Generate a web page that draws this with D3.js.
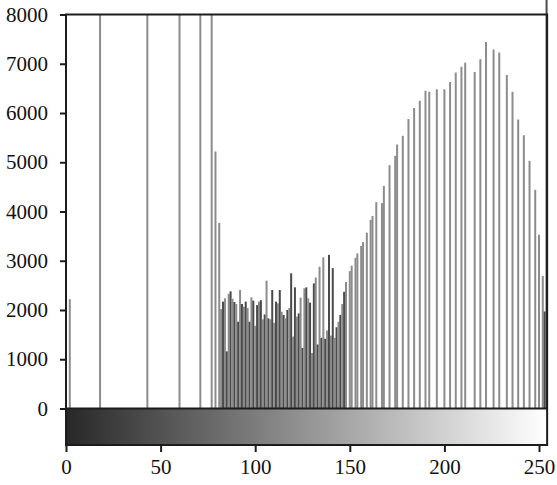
<!DOCTYPE html>
<html>
<head>
<meta charset="utf-8">
<script src="https://cdn.jsdelivr.net/npm/d3@7"></script>
<style>
body{margin:0;background:#fff;}
text{font-family:"Liberation Serif","Times New Roman",serif;}
</style>
</head>
<body>
<div id="hist"></div>
<script>
// gray levels that have counts, and their counts
var levels = [2, 18, 43, 60, 71, 77, 79, 81,
  82, 83, 84, 85, 86, 87, 88, 89, 90, 91, 92, 93, 94, 95, 96, 97, 98, 99,
  100, 101, 102, 103, 104, 105, 106, 107, 108, 109, 110, 111, 112, 113, 114, 115,
  116, 117, 118, 119, 120, 121, 122, 123, 124, 125, 126, 127, 128, 129, 130, 131,
  132, 133, 134, 135, 136, 137, 138, 139, 140, 141, 142, 143, 144, 145, 146, 147, 148,
  150, 151, 153, 154, 156, 157, 159, 161, 162, 164, 167, 168, 171, 174, 175, 178,
  181, 184, 187, 190, 192, 196, 200, 203, 206, 209, 211, 216, 219, 222, 226, 229,
  233, 236, 239, 242, 245, 248, 250, 252, 253, 254];
var counts = [2220, 12000, 12000, 12000, 12000, 12000, 5220, 3770,
  2020, 2170, 2237, 1160, 2330, 2380, 2230, 2162, 2122, 1762, 2406, 2122, 2068, 2170,
  2040, 1762, 2257, 2190, 1680, 2100, 2170, 2200, 1810, 1910, 2595, 1830, 1810, 2406,
  1740, 2170, 2135, 2406, 1965, 1900, 1830, 2000, 2040, 2745, 1460, 2460, 1865, 1930,
  2250, 1230, 2440, 2460, 2237, 2150, 1125, 2540, 2660, 1300, 2880, 1435, 3070, 1415,
  1585, 3120, 1480, 2850, 1435, 1650, 1760, 1900, 2120, 2370,
  2570, 2790, 2900, 3060, 3150, 3300, 3380, 3570, 3830, 3910, 4190, 4170, 4520, 4940,
  5130, 5360, 5540, 5880, 6100, 6250, 6450, 6430, 6480, 6480, 6630, 6820, 6940, 7020,
  6830, 7090, 7440, 7290, 7230, 6770, 6430, 5870, 5550, 5030, 4440, 3530, 2690, 1970];
var yTicks = [0, 1000, 2000, 3000, 4000, 5000, 6000, 7000, 8000];
var xTicks = [0, 50, 100, 150, 200, 250];

ShowHistogram();

function ShowHistogram(){
    var svg = d3.select("#hist")
                .append("svg")
                .attr("width", 557)
                .attr("height", 485);

    var x = d3.scaleLinear().domain([0, 250]).range([66, 539]);
    var y = d3.scaleLinear().domain([0, 8000]).range([408.5, 14.5]).clamp(true);
    var left = x(0), right = x(254.3), top = y(8000), base = y(0), barBottom = 445;

    // gradient strip under the bars
    var grad = svg.append("defs").append("linearGradient").attr("id", "gray");
    grad.append("stop").attr("offset", "0%").attr("stop-color", "#282828");
    grad.append("stop").attr("offset", "100%").attr("stop-color", "#ffffff");
    svg.append("rect").attr("x", left).attr("y", base).attr("width", right - left)
       .attr("height", barBottom - base).attr("fill", "url(#gray)");

    var has = {};
    levels.forEach(function(l){ has[l] = true; });

    // bars packed next to each other look darker in the scan
    function barColor(d){
        if(has[d - 1] && ((d < 150 && d % 2 == 1) || d >= 252)) return "#4a4a4a";
        return "#8c8c8c";
    }

    svg.selectAll("line.bar").data(levels).enter().append("line")
       .attr("class", "bar")
       .attr("x1", function(d){ return x(d); })
       .attr("x2", function(d){ return x(d); })
       .attr("y1", base)
       .attr("y2", function(d, i){ return y(counts[i]); })
       .attr("stroke", barColor)
       .attr("stroke-width", 2);

    // frame
    svg.append("rect").attr("x", left).attr("y", top).attr("width", right - left)
       .attr("height", barBottom - top).attr("fill", "none")
       .attr("stroke", "#1c1c1c").attr("stroke-width", 2);
    svg.append("line").attr("x1", left).attr("x2", right).attr("y1", base).attr("y2", base)
       .attr("stroke", "#1c1c1c").attr("stroke-width", 2);

    var yAxis = svg.append("g").attr("transform", "translate(" + left + ",0)")
       .call(d3.axisLeft(y).tickValues(yTicks).tickSize(6).tickPadding(12).tickFormat(d3.format("d")));
    var xAxis = svg.append("g").attr("transform", "translate(0," + barBottom + ")")
       .call(d3.axisBottom(x).tickValues(xTicks).tickSize(7).tickPadding(7).tickFormat(d3.format("d")));

    [yAxis, xAxis].forEach(function(a){
        a.select(".domain").remove();
        a.selectAll(".tick line").attr("stroke", "#1c1c1c").attr("stroke-width", 2);
        a.selectAll(".tick text").attr("fill", "#111").style("font-size", "21px")
         .style("font-family", "'Liberation Serif', serif");
    });
}
</script>
</body>
</html>
